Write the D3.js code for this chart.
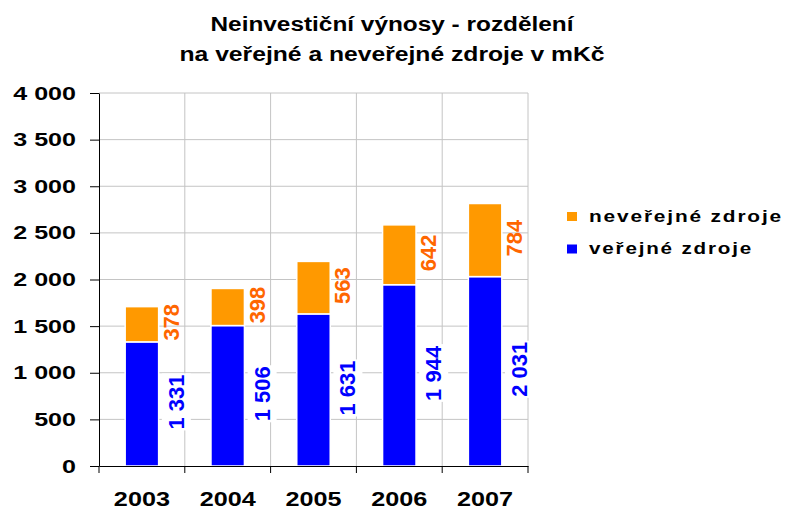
<!DOCTYPE html>
<html lang="cs">

<head>
  <meta charset="UTF-8">
  <title>Neinvestiční výnosy</title>
  <style>
    body { margin: 0; background: #fff; }
    text { font-family: "Liberation Sans", Arial, sans-serif; font-weight: bold; }
  </style>
</head>

<body>

  <script src="https://cdn.jsdelivr.net/npm/d3@7/dist/d3.min.js"></script>
  <script>
    // data
    var years = ["2003", "2004", "2005", "2006", "2007"];
    var verejne = [1331, 1506, 1631, 1944, 2031];     // veřejné zdroje
    var neverejne = [378, 398, 563, 642, 784];        // neveřejné zdroje
    var yTicks = [0, 500, 1000, 1500, 2000, 2500, 3000, 3500, 4000];
    var seriesNames = ["neveřejné zdroje", "veřejné zdroje"];
    var titleLines = ["Neinvestiční výnosy - rozdělení", "na veřejné a neveřejné zdroje v mKč"];

    var width = 787, height = 510;
    var plotL = 99, plotR = 528, plotT = 93, plotB = 466;

    var cBlue = "#0000ff", cOrange = "#ff9900", cOrangeText = "#ff6600", cGrid = "#c4c4c4";

    var fmt = d3.formatLocale({ decimal: ",", thousands: " ", grouping: [3], currency: ["", " Kč"] }).format(",");

    var svg = d3.select("body").append("svg")
      .attr("width", width)
      .attr("height", height);

    // stretch text horizontally like the original rendering
    function stretch(sel, k) {
      sel.each(function () {
        var w = this.getComputedTextLength();
        d3.select(this).attr("textLength", w * k).attr("lengthAdjust", "spacingAndGlyphs");
      });
    }

    var x = d3.scaleBand().domain(years).range([plotL, plotR]).padding(0);
    var y = d3.scaleLinear().domain([0, 4000]).range([plotB, plotT]);

    // title
    svg.selectAll(".title")
      .data(titleLines)
      .enter()
      .append("text")
      .attr("class", "title")
      .attr("x", 392)
      .attr("y", function (d, i) { return 31 + i * 29.5; })
      .attr("text-anchor", "middle")
      .style("font-size", "20px")
      .text(function (d) { return d; })
      .each(function (d, i) {
        d3.select(this).attr("textLength", i == 0 ? 363 : 425).attr("lengthAdjust", "spacingAndGlyphs");
      });

    // grid
    svg.append("g").selectAll("line")
      .data(yTicks.filter(function (d) { return d > 0; }))
      .enter()
      .append("line")
      .attr("x1", plotL).attr("x2", plotR)
      .attr("y1", function (d) { return y(d); })
      .attr("y2", function (d) { return y(d); })
      .style("stroke", cGrid)
      .style("stroke-width", 1);

    svg.append("g").selectAll("line")
      .data(years)
      .enter()
      .append("line")
      .attr("x1", function (d) { return x(d) + x.step(); })
      .attr("x2", function (d) { return x(d) + x.step(); })
      .attr("y1", plotT).attr("y2", plotB)
      .style("stroke", cGrid)
      .style("stroke-width", 1);

    // stacked bars
    var rows = years.map(function (d, i) {
      return { year: d, verejne: verejne[i], neverejne: neverejne[i] };
    });
    var stack = d3.stack().keys(["verejne", "neverejne"])(rows);
    var colors = { verejne: cBlue, neverejne: cOrange };
    var barW = x.bandwidth() * 0.39;

    svg.append("g").selectAll("g")
      .data(stack)
      .enter()
      .append("g")
      .style("fill", function (s) { return colors[s.key]; })
      .selectAll("rect")
      .data(function (s) { return s; })
      .enter()
      .append("rect")
      .attr("x", function (d) { return x(d.data.year) + x.bandwidth() / 2 - barW / 2; })
      .attr("width", barW)
      .attr("y", function (d) { return y(d[1]); })
      .attr("height", function (d) { return y(d[0]) - y(d[1]); })
      .style("stroke", "#fff")
      .style("stroke-width", 1.5);

    // value labels (rotated)
    var labelG = svg.append("g");
    stack.forEach(function (s) {
      var isBlue = s.key == "verejne";
      var g = labelG.selectAll(".lbl-" + s.key)
        .data(s)
        .enter()
        .append("g")
        .attr("class", "lbl-" + s.key)
        .attr("transform", function (d) {
          var cx = x(d.data.year) + x.bandwidth() / 2 + (isBlue ? 34 : 29);
          var cy = (y(d[0]) + y(d[1])) / 2 - 2;
          return "translate(" + cx + "," + cy + ") rotate(-90)";
        });
      var t = g.append("text")
        .attr("text-anchor", "middle")
        .attr("dy", "0.36em")
        .style("font-size", "22px")
        .style("fill", isBlue ? cBlue : cOrangeText)
        .text(function (d) { return fmt(d.data[s.key]); });
      if (isBlue) {
        t.each(function () {
          var b = this.getBBox();
          d3.select(this.parentNode).insert("rect", "text")
            .attr("x", b.x - 1).attr("width", b.width + 2)
            .attr("y", b.y - 2).attr("height", b.height + 4)
            .style("fill", "#fff");
        });
      }
    });

    // y axis
    var yAxis = svg.append("g")
      .attr("transform", "translate(" + plotL + ",0)")
      .call(d3.axisLeft(y).tickValues(yTicks).tickFormat(fmt).tickSize(9).tickSizeOuter(0).tickPadding(14));
    yAxis.select(".domain").style("stroke", "#000");
    yAxis.selectAll(".tick line").style("stroke", "#000");
    yAxis.selectAll("text")
      .style("font-size", "19px")
      .style("fill", "#000")
      .call(stretch, 1.32);

    // x axis
    var xAxis = svg.append("g")
      .attr("transform", "translate(0," + plotB + ")")
      .call(d3.axisBottom(x).tickSize(0).tickSizeOuter(0).tickPadding(26));
    xAxis.select(".domain").style("stroke", "#000");
    xAxis.selectAll("text")
      .style("font-size", "20px")
      .style("fill", "#000")
      .call(stretch, 1.26);
    xAxis.selectAll(".edge")
      .data(years.map(function (d) { return x(d); }).concat([plotR]))
      .enter()
      .append("line")
      .attr("class", "edge")
      .attr("x1", function (d) { return d; })
      .attr("x2", function (d) { return d; })
      .attr("y1", 0).attr("y2", 7)
      .style("stroke", "#000");

    // legend
    var legend = svg.append("g").selectAll("g")
      .data(seriesNames)
      .enter()
      .append("g")
      .attr("transform", function (d, i) { return "translate(567," + (212 + i * 32.5) + ")"; });
    legend.append("rect")
      .attr("width", 10).attr("height", 9)
      .style("fill", function (d, i) { return i == 0 ? cOrange : cBlue; });
    legend.append("text")
      .attr("x", 22)
      .attr("y", 9.7)
      .style("font-size", "17px")
      .style("letter-spacing", "1.5px")
      .text(function (d) { return d; })
      .each(function (d, i) {
        d3.select(this).attr("textLength", i == 0 ? 194 : 164).attr("lengthAdjust", "spacingAndGlyphs");
      });
  </script>
</body>

</html>
